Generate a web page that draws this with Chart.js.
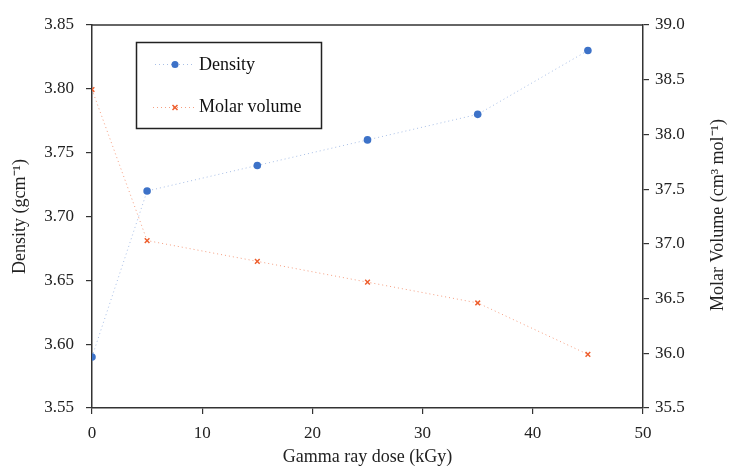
<!DOCTYPE html>
<html>
<head>
<meta charset="utf-8">
<script src="https://cdn.jsdelivr.net/npm/chart.js@4/dist/chart.umd.min.js"></script>
<style>
html,body{margin:0;padding:0;background:#fff;}
#wrap{width:729px;height:474px;}
</style>
</head>
<body>
<div id="wrap"><canvas id="c" width="729" height="474"></canvas></div>
<script>
// ---- data ----
const doses = [0, 5, 15, 25, 35, 45];
const density = [3.59, 3.72, 3.74, 3.76, 3.78, 3.83];
const molarVolume = [38.41, 37.03, 36.84, 36.65, 36.46, 35.99];
const seriesNames = ['Density', 'Molar volume'];
const xTitle = 'Gamma ray dose (kGy)';
const yLeftTitle = 'Density (gcm\u207B\u00B9)';
const yRightTitle = 'Molar Volume (cm\u00B3 mol\u207B\u00B9)';

const FONT = '"Liberation Serif", "Times New Roman", serif';
Chart.defaults.font.family = FONT;
Chart.defaults.color = '#222';

const blue = '#3d72c8';
const orange = '#ee5f2e';

const dPts = doses.map((x, i) => ({x: x, y: density[i]}));
const mPts = doses.map((x, i) => ({x: x, y: molarVolume[i]}));

const framePlugin = {
  id: 'frame',
  afterDraw(chart) {
    const ctx = chart.ctx;
    const a = chart.chartArea;
    ctx.save();
    // top border
    ctx.strokeStyle = '#333';
    ctx.lineWidth = 1.5;
    ctx.beginPath();
    ctx.moveTo(a.left, a.top);
    ctx.lineTo(a.right, a.top);
    ctx.stroke();
    // right axis title (reads bottom to top)
    ctx.fillStyle = '#222';
    ctx.font = '18px ' + FONT;
    ctx.textAlign = 'center';
    ctx.textBaseline = 'middle';
    ctx.translate(718, 215);
    ctx.rotate(-Math.PI / 2);
    ctx.fillText(yRightTitle, 0, 0);
    ctx.restore();

    // legend box
    ctx.save();
    const bx = 136.5, by = 42.5, bw = 185, bh = 86;
    ctx.strokeStyle = '#222';
    ctx.lineWidth = 1.5;
    ctx.strokeRect(bx, by, bw, bh);
    ctx.font = '18px ' + FONT;
    ctx.fillStyle = '#111';
    ctx.textAlign = 'left';
    ctx.textBaseline = 'middle';
    // item 1
    ctx.setLineDash([1, 3]);
    ctx.lineWidth = 1;
    ctx.strokeStyle = 'rgba(61,114,200,0.45)';
    ctx.beginPath(); ctx.moveTo(155, 64.5); ctx.lineTo(195, 64.5); ctx.stroke();
    ctx.setLineDash([]);
    ctx.fillStyle = blue;
    ctx.beginPath(); ctx.arc(175, 64.5, 3.5, 0, Math.PI * 2); ctx.fill();
    ctx.fillStyle = '#111';
    ctx.fillText(seriesNames[0], 199, 65);
    // item 2
    ctx.setLineDash([1, 3]);
    ctx.strokeStyle = 'rgba(238,95,46,0.6)';
    ctx.beginPath(); ctx.moveTo(153, 107.5); ctx.lineTo(195, 107.5); ctx.stroke();
    ctx.setLineDash([]);
    ctx.strokeStyle = orange;
    ctx.lineWidth = 1.5;
    ctx.beginPath();
    ctx.moveTo(172.5, 105); ctx.lineTo(177.5, 110);
    ctx.moveTo(177.5, 105); ctx.lineTo(172.5, 110);
    ctx.stroke();
    ctx.fillStyle = '#111';
    ctx.fillText(seriesNames[1], 199, 107);
    ctx.restore();
  }
};

const tickFont = {family: FONT, size: 17};
const titleFont = {family: FONT, size: 18};

new Chart(document.getElementById('c'), {
  type: 'line',
  data: {
    datasets: [
      {
        label: seriesNames[0],
        data: dPts,
        yAxisID: 'y',
        borderColor: 'rgba(61,114,200,0.45)',
        borderWidth: 1,
        borderDash: [1, 3],
        pointRadius: 3.8,
        pointBackgroundColor: blue,
        pointBorderColor: blue,
        pointBorderWidth: 0,
        tension: 0
      },
      {
        label: seriesNames[1],
        data: mPts,
        yAxisID: 'y2',
        borderColor: 'rgba(238,95,46,0.6)',
        borderWidth: 1,
        borderDash: [1, 3],
        pointStyle: 'crossRot',
        pointRadius: 3.3,
        pointBorderColor: orange,
        pointBorderWidth: 1.5,
        tension: 0
      }
    ]
  },
  options: {
    responsive: false,
    animation: false,
    events: [],
    layout: {padding: {top: 25, left: 0, right: 0, bottom: 0}},
    plugins: {legend: {display: false}, tooltip: {enabled: false}},
    scales: {
      x: {
        type: 'linear',
        min: 0, max: 50,
        ticks: {stepSize: 10, font: tickFont, color: '#222', padding: 9, maxRotation: 0},
        grid: {drawOnChartArea: false, tickLength: 6, color: '#333', lineWidth: 1.2},
        border: {color: '#333', width: 1.5},
        title: {display: true, text: xTitle, font: titleFont, color: '#222', padding: {top: 0, bottom: 6}},
        afterFit(s) { s.height = 66; }
      },
      y: {
        type: 'linear',
        position: 'left',
        min: 3.55, max: 3.85,
        ticks: {stepSize: 0.05, font: tickFont, color: '#222', padding: 12, callback: v => v.toFixed(2)},
        grid: {drawOnChartArea: false, tickLength: 6, color: '#333', lineWidth: 1.2},
        border: {color: '#333', width: 1.5},
        title: {display: true, text: yLeftTitle, font: titleFont, color: '#222', padding: {top: 9, bottom: 0}},
        afterFit(s) { s.width = 92; }
      },
      y2: {
        type: 'linear',
        position: 'right',
        min: 35.5, max: 39.0,
        ticks: {stepSize: 0.5, font: tickFont, color: '#222', padding: 6, callback: v => v.toFixed(1)},
        grid: {drawOnChartArea: false, tickLength: 6, color: '#333', lineWidth: 1.2},
        border: {color: '#333', width: 1.5},
        afterFit(s) { s.width = 86; }
      }
    }
  },
  plugins: [framePlugin]
});
</script>
</body>
</html>
